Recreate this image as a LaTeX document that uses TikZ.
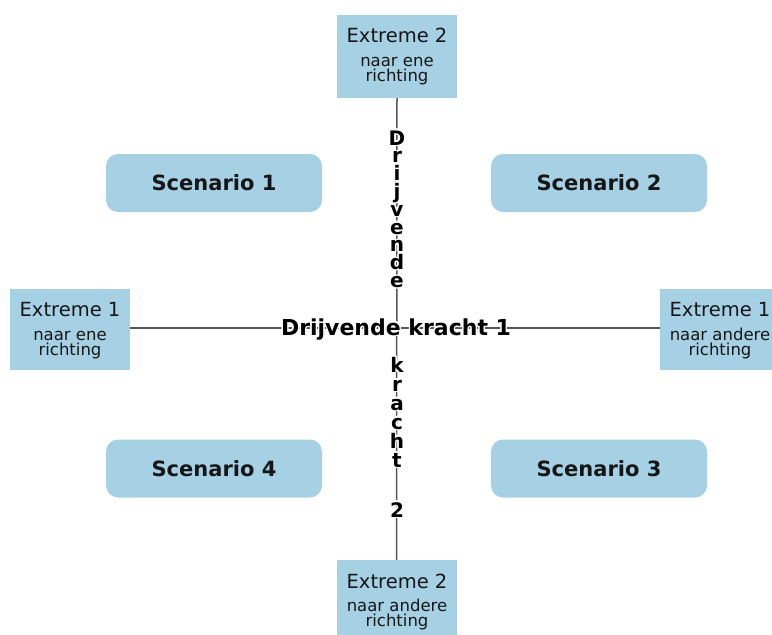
\documentclass[tikz,border=0pt]{standalone}
\usepackage{fontspec}
\setmainfont{DejaVu Sans}
\usepackage{contour}
\contourlength{1.3pt}
\definecolor{boxblue}{RGB}{166,209,229}
\definecolor{axisgray}{RGB}{85,85,85}
\definecolor{ink}{RGB}{22,22,22}
\tikzset{
  extremebox/.style={fill=boxblue, draw=none, minimum width=120pt, inner sep=0pt},
  scenariobox/.style={fill=boxblue, draw=none, rounded corners=12pt,
    minimum width=216pt, minimum height=58pt, inner sep=0pt,
    text=ink, font=\fontsize{21}{23}\selectfont\bfseries},
  headline/.style={anchor=base, inner sep=0pt, text=ink, font=\fontsize{19.5}{21}\selectfont},
  subline/.style={anchor=base, inner sep=0pt, text=ink, font=\fontsize{16.5}{18}\selectfont},
  axisline/.style={draw=axisgray, line width=1.5pt},
  % axis labels carry a thin white halo over the lines
  axislabel/.style={anchor=base, inner sep=0pt, text=black,
    font=\fontsize{22}{23}\selectfont\bfseries},
  axisglyph/.style={axislabel, font=\fontsize{20}{21}\selectfont\bfseries},
}
\newcommand\halo[1]{\contour{white}{#1}}
\begin{document}
\begin{tikzpicture}[x=1pt, y=-1pt]
  \useasboundingbox (0,0) rectangle (772,635);

  % extreme boxes at the ends of both axes
  \node[extremebox, minimum height=83pt] (top) at (397,56.5) {};
  \node[extremebox, minimum height=75pt] (bot) at (396.5,597.5) {};
  \node[extremebox, minimum height=81pt] (lft) at (70,329.5) {};
  \node[extremebox, minimum height=81pt] (rgt) at (720,329.5) {};

  % the two axes
  \draw[axisline] (lft.east |- 0,328) -- (rgt.west |- 0,328);
  \draw[axisline] (top.south) -- (bot.north);

  % texts of the extreme boxes
  \node[headline] (topA) at (397,42) {Extreme 2};
  \node[subline]  (topB) at (397,66.5) {naar ene};
  \node[subline]  (topC) at (397,81.5) {richting};

  \node[headline] (botA) at (397,588) {Extreme 2};
  \node[subline]  (botB) at (397,611.5) {naar andere};
  \node[subline]  (botC) at (397,626) {richting};

  \node[headline] (lftA) at (70,316) {Extreme 1};
  \node[subline]  (lftB) at (70,340.5) {naar ene};
  \node[subline]  (lftC) at (70,355) {richting};

  \node[headline] (rgtA) at (720,316) {Extreme 1};
  \node[subline]  (rgtB) at (720,340.5) {naar andere};
  \node[subline]  (rgtC) at (720,355) {richting};

  % scenario quadrants
  \node[scenariobox] (s1) at (214,183) {Scenario 1};
  \node[scenariobox] (s2) at (599,183) {Scenario 2};
  \node[scenariobox] (s4) at (214,468.5) {Scenario 4};
  \node[scenariobox] (s3) at (599,468.5) {Scenario 3};

  % horizontal axis label
  \node[axislabel] (dk1) at (396,335) {\halo{Drijvende kracht 1}};

  % vertical axis label, one glyph per line
  \foreach \ch [count=\k from 0] in {D,r,i,j,v,e,n,d,e}
    \node[axisglyph] (up\k) at (397,145+17.8*\k) {\halo{\ch}};
  \foreach \ch [count=\k from 0] in {k,r,a,c,h,t}
    \node[axisglyph] (dn\k) at (397,372+19*\k) {\halo{\ch}};
  \node[axisglyph] (dn6) at (397,517) {\halo{2}};
\end{tikzpicture}
\end{document}
